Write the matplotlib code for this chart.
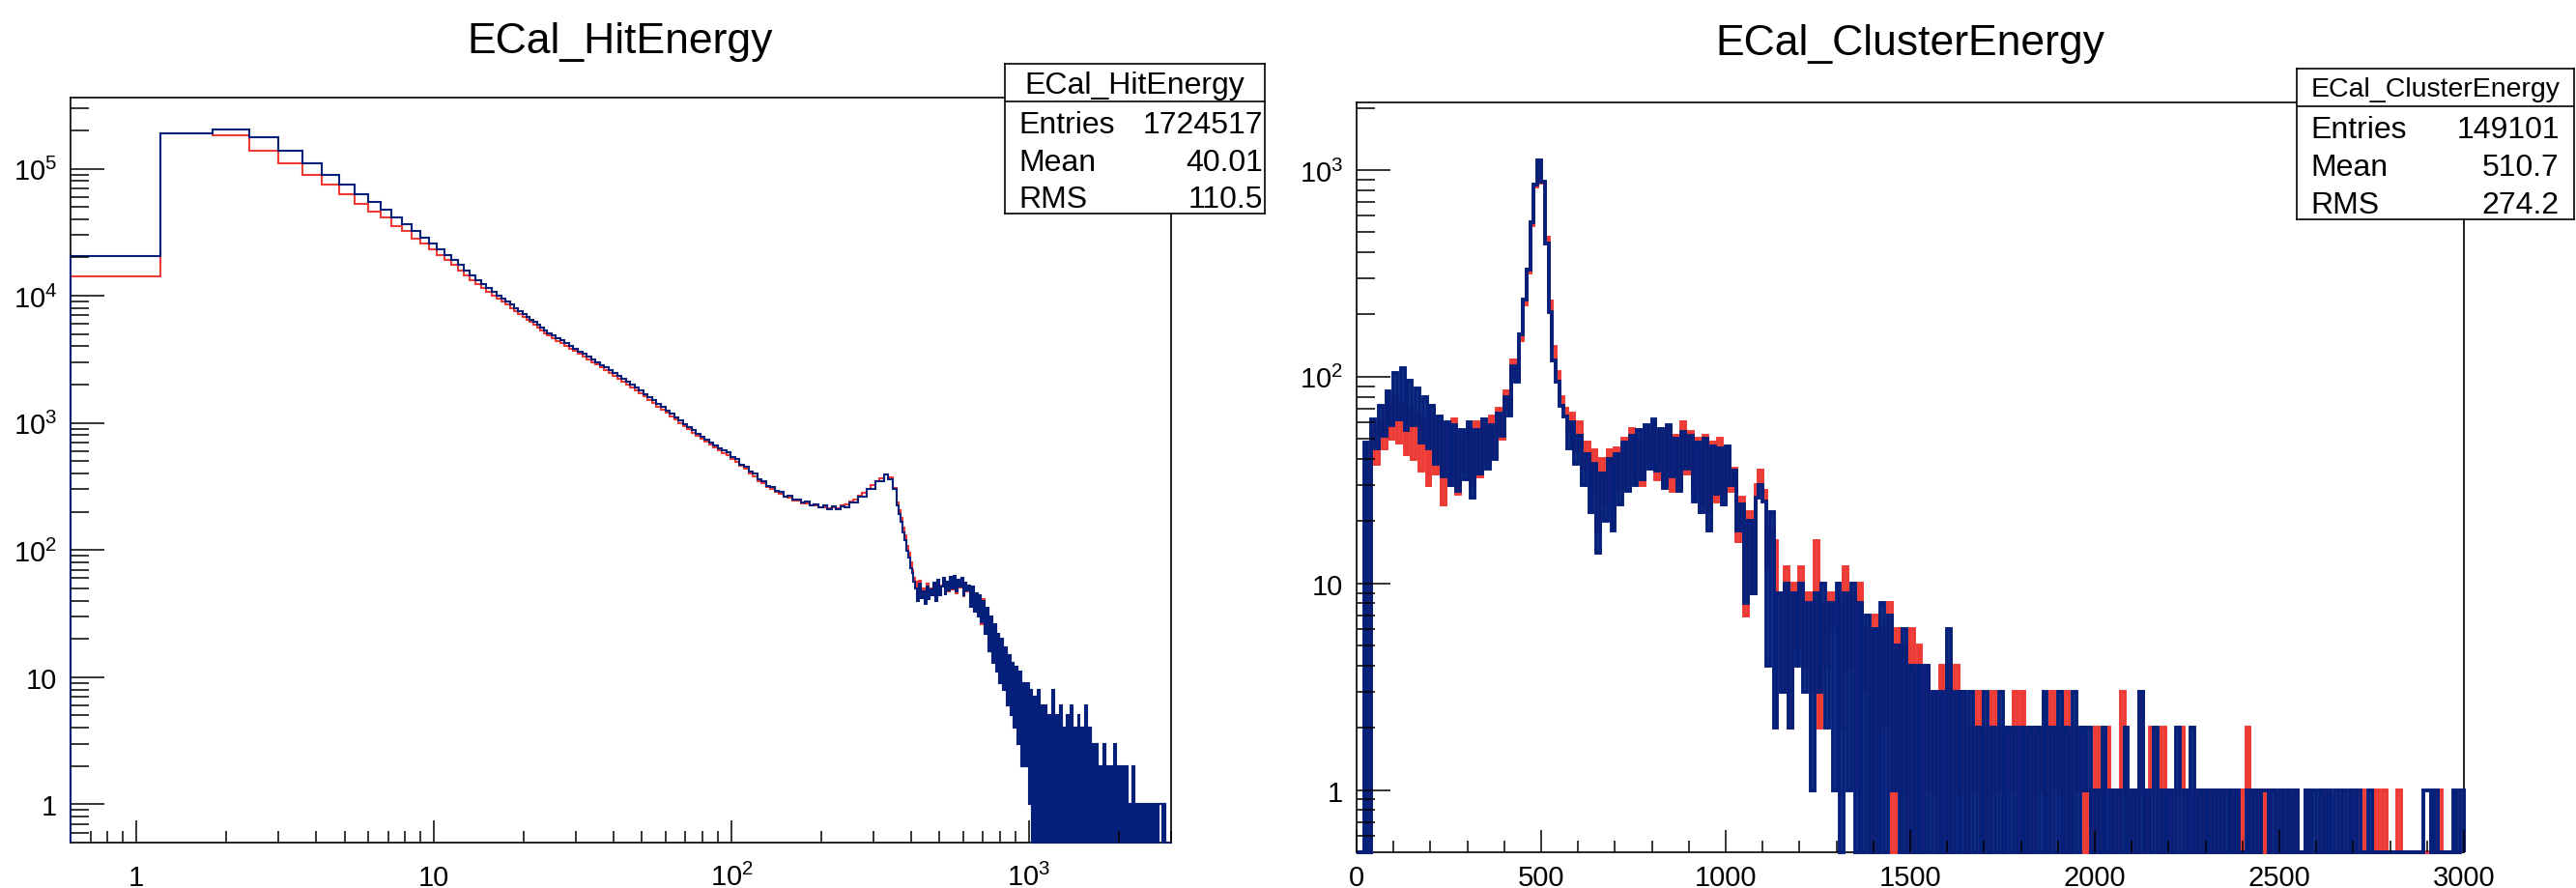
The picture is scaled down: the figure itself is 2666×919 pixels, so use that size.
import numpy as np
import matplotlib
matplotlib.use("Agg")
import matplotlib.pyplot as plt

W, H = 2666, 920

# ---------------- ECal_HitEnergy (log x) ----------------
hit_fine_edges = np.round(np.arange(1, 41) * 0.6, 1)      # 0.6 ... 24.0
hit_mid_edges = np.geomspace(24, 360, 81)
hit_tail_edges = np.geomspace(360, 3000, 151)

hit_blue_fine = [20400, 189000, 204000, 176000, 138000, 110000, 89600, 74800, 62800, 54300,
                 47500, 41000, 36600, 32100, 28600, 25800, 23200, 21000, 19300, 17400,
                 15700, 14400, 13200, 12300, 11500, 10800, 10100, 9500, 9000, 8500,
                 8000, 7600, 7200, 6850, 6500, 6200, 5900, 5600, 5350]
hit_red_fine = [14300, 189000, 183000, 138000, 110000, 89600, 74800, 62800, 52700, 46100,
                41000, 35500, 32100, 28100, 25800, 23200, 21000, 19300, 17400, 15700,
                14400, 13200, 12300, 11500, 10800, 10100, 9500, 9000, 8500, 8000,
                7600, 7200, 6850, 6500, 6200, 5900, 5600, 5350, 5100]

hit_blue_mid = [5100, 4880, 4640, 4450, 4230, 4040, 3850, 3660, 3500, 3320,
                3160, 3020, 2860, 2730, 2590, 2470, 2340, 2230, 2110, 2010,
                1900, 1800, 1695, 1600, 1510, 1415, 1340, 1255, 1185, 1110,
                1045, 985, 925, 875, 820, 778, 735, 700, 662, 635,
                605, 585, 540, 520, 470, 455, 412, 398, 360, 350,
                318, 314, 290, 287, 265, 266, 248, 250, 235, 240,
                226, 230, 216, 223, 210, 221, 208, 222, 218, 238,
                236, 262, 265, 300, 305, 345, 348, 392, 360, 300]
hit_red_mid = [4880, 4660, 4430, 4240, 4030, 3850, 3670, 3490, 3330, 3170,
               3010, 2870, 2730, 2600, 2470, 2350, 2230, 2120, 2010, 1910,
               1810, 1715, 1615, 1525, 1440, 1350, 1280, 1200, 1130, 1065,
               1000, 945, 888, 840, 790, 748, 708, 672, 638, 610,
               580, 556, 520, 495, 458, 435, 400, 380, 350, 334,
               312, 300, 288, 277, 262, 258, 247, 244, 234, 233,
               224, 225, 218, 218, 212, 217, 214, 224, 228, 240,
               248, 266, 280, 304, 322, 348, 368, 396, 370, 310]

hit_blue_tail = [225, 192, 168, 138, 120, 98, 88, 72, 66, 56,
                 50, 40, 54, 42, 47, 38, 52, 41, 49, 44,
                 55, 40, 58, 44, 52, 60, 45, 56, 48, 62,
                 50, 63, 47, 58, 52, 60, 44, 55, 48, 53,
                 36, 52, 33, 46, 30, 44, 27, 40, 22, 35,
                 16, 30, 13, 26, 11, 22, 9, 20, 8, 17,
                 6, 15, 5, 13, 4, 12, 3, 11, 2, 9,
                 2, 9, 1, 8, 0, 7, 0, 8, 0, 6,
                 0, 6, 0, 5, 0, 8, 0, 5, 0, 6,
                 0, 4, 0, 5, 0, 6, 0, 4, 0, 5,
                 0, 4, 0, 6, 0, 4, 0, 3, 0, 3,
                 0, 2, 0, 3, 0, 2, 0, 2, 0, 3,
                 0, 2, 0, 2, 0, 2, 0, 1, 0, 2,
                 0, 1, 0, 1, 0, 1, 0, 1, 0, 1,
                 0, 1, 0, 1, 1, 0, 1, 0, 0, 0]
hit_red_tail = [235, 205, 180, 150, 130, 108, 95, 80, 70, 60,
                56, 44, 57, 45, 50, 41, 54, 43, 50, 46,
                54, 42, 57, 45, 53, 58, 46, 55, 47, 60,
                49, 61, 46, 57, 51, 58, 43, 54, 47, 52,
                37, 50, 34, 45, 31, 43, 26, 41, 23, 34,
                17, 29, 14, 25, 12, 21, 9, 19, 8, 16,
                6, 14, 5, 12, 4, 11, 3, 10, 2, 9,
                2, 8, 1, 8, 0, 7, 0, 7, 0, 6,
                0, 5, 0, 5, 0, 7, 0, 5, 0, 6,
                0, 4, 0, 5, 0, 5, 0, 4, 0, 4,
                0, 4, 0, 5, 0, 4, 0, 3, 0, 3,
                0, 2, 0, 3, 0, 2, 0, 2, 0, 2,
                0, 2, 0, 2, 0, 1, 0, 1, 0, 2,
                0, 1, 0, 1, 0, 1, 0, 1, 0, 1,
                0, 1, 0, 1, 1, 0, 1, 0, 0, 0]

# ---------------- ECal_ClusterEnergy (linear x, 10-wide bins) ----------------
clu_edges = np.arange(0, 3001, 10)
clu_blue = [0, 0, 48, 0, 62, 45, 72, 52, 85, 58,
            104, 62, 110, 55, 96, 58, 88, 48, 80, 45,
            72, 38, 64, 33, 60, 30, 58, 28, 55, 32,
            60, 26, 55, 34, 62, 36, 58, 40, 66, 52,
            80, 65, 112, 95, 160, 235, 330, 560, 850, 1110,
            880, 440, 205, 120, 95, 72, 64, 45, 60, 38,
            52, 30, 42, 22, 38, 14, 34, 20, 40, 18,
            42, 24, 48, 28, 52, 30, 55, 32, 58, 36,
            62, 35, 56, 29, 58, 33, 50, 28, 54, 36,
            52, 25, 48, 22, 50, 18, 46, 27, 45, 24,
            46, 30, 35, 18, 24, 8, 20, 9, 26, 30,
            25, 4, 22, 2, 9, 3, 10, 2, 9, 4,
            10, 3, 8, 1, 9, 3, 10, 2, 8, 1,
            10, 0, 9, 1, 10, 0, 8, 0, 7, 0,
            6, 0, 8, 0, 7, 1, 5, 0, 6, 0,
            4, 0, 4, 0, 4, 0, 3, 0, 3, 0,
            6, 0, 3, 0, 3, 0, 3, 0, 2, 0,
            3, 0, 2, 0, 3, 0, 2, 0, 2, 0,
            2, 0, 2, 0, 2, 0, 3, 0, 2, 0,
            3, 0, 2, 0, 3, 0, 2, 1, 2, 0,
            1, 0, 2, 0, 1, 0, 1, 0, 2, 0,
            1, 0, 3, 0, 1, 0, 2, 0, 1, 0,
            1, 0, 2, 0, 1, 0, 2, 0, 1, 0,
            1, 0, 1, 0, 1, 0, 1, 0, 1, 0,
            0, 1, 0, 1, 0, 1, 1, 0, 1, 0,
            1, 0, 1, 0, 1, 0, 0, 1, 0, 1,
            0, 1, 0, 1, 0, 1, 0, 1, 0, 1,
            0, 1, 0, 0, 1, 0, 0, 0, 0, 0,
            0, 0, 0, 0, 0, 0, 0, 0, 0, 1,
            1, 0, 1, 0, 0, 0, 0, 1, 0, 1]
clu_red = [0, 0, 40, 0, 55, 38, 60, 45, 72, 50,
           80, 48, 75, 42, 70, 40, 66, 35, 62, 30,
           66, 34, 60, 24, 58, 30, 62, 27, 52, 35,
           56, 30, 60, 33, 58, 38, 64, 42, 70, 50,
           85, 70, 120, 100, 150, 225, 320, 540, 830, 1080,
           870, 470, 230, 140, 105, 80, 70, 55, 66, 44,
           60, 36, 48, 28, 44, 18, 40, 24, 44, 20,
           45, 28, 50, 30, 56, 34, 50, 30, 55, 38,
           58, 32, 54, 30, 56, 28, 52, 30, 60, 34,
           54, 28, 50, 24, 52, 22, 48, 25, 50, 26,
           44, 28, 36, 16, 26, 7, 22, 9, 30, 35,
           28, 12, 18, 16, 9, 3, 12, 2, 10, 5,
           12, 4, 9, 3, 16, 2, 8, 4, 9, 6,
           8, 2, 12, 4, 9, 1, 10, 3, 6, 0,
           7, 0, 6, 2, 8, 0, 6, 1, 5, 0,
           6, 0, 5, 0, 4, 1, 3, 0, 4, 0,
           4, 0, 4, 1, 3, 0, 2, 1, 3, 0,
           2, 0, 3, 1, 2, 0, 2, 1, 3, 0,
           3, 0, 2, 0, 2, 1, 2, 0, 3, 1,
           2, 0, 3, 0, 2, 1, 2, 0, 1, 0,
           2, 0, 1, 2, 0, 1, 0, 3, 1, 0,
           1, 0, 3, 1, 0, 2, 1, 0, 2, 0,
           1, 0, 1, 2, 0, 1, 0, 1, 0, 1,
           0, 1, 0, 1, 0, 1, 1, 0, 1, 0,
           1, 2, 0, 1, 0, 1, 0, 1, 1, 0,
           1, 0, 1, 0, 1, 0, 0, 1, 0, 0,
           0, 1, 0, 1, 0, 0, 1, 0, 0, 1,
           0, 1, 1, 0, 0, 0, 1, 0, 1, 0,
           0, 0, 1, 0, 0, 0, 0, 0, 0, 0,
           0, 1, 0, 1, 0, 0, 0, 0, 1, 1]

hit_stats = [("Entries", "1724517"), ("Mean", "40.01"), ("RMS", "110.5")]
clu_stats = [("Entries", "149101"), ("Mean", "510.7"), ("RMS", "274.2")]

RED = "#ee3a34"
BLUE = "#05207a"

plt.rcParams['font.family'] = ['Liberation Sans', 'DejaVu Sans']
plt.rcParams['mathtext.default'] = 'regular'

fig = plt.figure(figsize=(W / 100, H / 100), dpi=100, facecolor='white')


def px_axes(x0, x1, ytop, ybot, **kw):
    return fig.add_axes([x0 / W, 1 - ybot / H, (x1 - x0) / W, (ybot - ytop) / H], **kw)


def draw_hist(ax, edges, counts, color, ymin, z, lw):
    c = np.asarray(counts, dtype=float)
    c = np.where(c > 0, c, ymin)
    ax.stairs(c, edges, baseline=ymin, color=color, lw=lw, zorder=z, clip_on=False)


def style(ax, xpad):
    ax.tick_params(which='both', direction='in', top=False, right=False,
                   width=1.1, color='black', labelsize=21)
    ax.tick_params(axis='y', which='major', length=25, pad=10)
    ax.tick_params(axis='y', which='minor', length=14)
    ax.tick_params(axis='x', which='major', length=16.5, pad=xpad)
    ax.tick_params(axis='x', which='minor', length=8.6)
    for s in ax.spines.values():
        s.set_linewidth(1.2)
        s.set_zorder(2.5)
    ax.xaxis.set_zorder(4)
    ax.yaxis.set_zorder(4)


def log_minors(lo_exp, hi_exp):
    return [m * 10.0 ** e for e in range(lo_exp, hi_exp) for m in range(2, 10)]


# ---- left panel ----
ax1 = px_axes(73, 1212, 102, 873)
ax1.set_xscale('log')
ax1.set_yscale('log')
ax1.set_xlim(0.6, 3000)
ax1.set_ylim(0.5, 3.62e5)
hit_edges = np.concatenate([hit_fine_edges, hit_mid_edges[1:], hit_tail_edges[1:]])
draw_hist(ax1, hit_edges, hit_red_fine + hit_red_mid + hit_red_tail, RED, 0.5, 3, 1.5)
draw_hist(ax1, hit_edges, hit_blue_fine + hit_blue_mid + hit_blue_tail, BLUE, 0.5, 3.1, 1.5)
ax1.set_xticks([1, 10, 100, 1000])
ax1.set_xticklabels(['1', '10', r'$10^{2}$', r'$10^{3}$'], va='baseline')
ax1.set_xticks([0.7, 0.8, 0.9] + log_minors(0, 3) + [2000, 3000], minor=True)
ax1.set_yticks([1, 10, 100, 1e3, 1e4, 1e5])
ax1.set_yticklabels(['1', '10', r'$10^{2}$', r'$10^{3}$', r'$10^{4}$', r'$10^{5}$'])
ax1.set_yticks([0.6, 0.7, 0.8, 0.9] + log_minors(0, 5) + [2e5, 3e5], minor=True)
ax1.yaxis.set_minor_formatter(plt.NullFormatter())
ax1.xaxis.set_minor_formatter(plt.NullFormatter())
style(ax1, 31.7)

# ---- right panel ----
ax2 = px_axes(1404, 2550, 107, 883)
ax2.set_yscale('log')
ax2.set_xlim(0, 3000)
ax2.set_ylim(0.5, 2124)
draw_hist(ax2, clu_edges, clu_red, RED, 0.5, 3, 2.8)
draw_hist(ax2, clu_edges, clu_blue, BLUE, 0.5, 3.1, 2.8)
ax2.set_xticks(np.arange(0, 3001, 500))
ax2.set_xticklabels([str(v) for v in range(0, 3001, 500)], va='baseline')
ax2.set_xticks(np.arange(0, 3001, 100), minor=True)
ax2.set_yticks([1, 10, 100, 1000])
ax2.set_yticklabels(['1', '10', r'$10^{2}$', r'$10^{3}$'])
ax2.set_yticks([0.6, 0.7, 0.8, 0.9] + log_minors(0, 3) + [2000], minor=True)
ax2.yaxis.set_minor_formatter(plt.NullFormatter())
style(ax2, 24.5)

# ---- titles ----
fig.text(642 / W, 1 - 55 / H, "ECal_HitEnergy", ha='center', va='baseline', fontsize=32)
fig.text(1977 / W, 1 - 57 / H, "ECal_ClusterEnergy", ha='center', va='baseline', fontsize=32)


# ---- stats boxes ----
def stat_box(x0, x1, ytop, ysep, ybot, name, name_size, rows, name_base, row_bases, lab_x, val_x):
    bax = px_axes(x0, x1, ytop, ybot, zorder=10)
    bax.set_xticks([])
    bax.set_yticks([])
    bax.set_xlim(0, 1)
    bax.set_ylim(0, 1)
    for s in bax.spines.values():
        s.set_linewidth(1.2)
    bax.axhline((ybot - ysep) / (ybot - ytop), color='black', lw=1.2)
    tf = fig.transFigure
    bax.text((x0 + x1) / 2 / W, 1 - name_base / H, name, transform=tf,
             ha='center', va='baseline', fontsize=name_size)
    for (lab, val), yb in zip(rows, row_bases):
        bax.text(lab_x / W, 1 - yb / H, lab, transform=tf, ha='left', va='baseline', fontsize=23)
        bax.text(val_x / W, 1 - yb / H, val, transform=tf, ha='right', va='baseline', fontsize=23)


stat_box(1040, 1309, 67, 106, 222, "ECal_HitEnergy", 23, hit_stats,
         97, [138, 177, 215], 1054, 1307)
stat_box(2377, 2664, 72, 111, 228, "ECal_ClusterEnergy", 20.5, clu_stats,
         100, [143, 182, 221], 2391, 2649)

fig.savefig("out.png", dpi=100, facecolor='white')
